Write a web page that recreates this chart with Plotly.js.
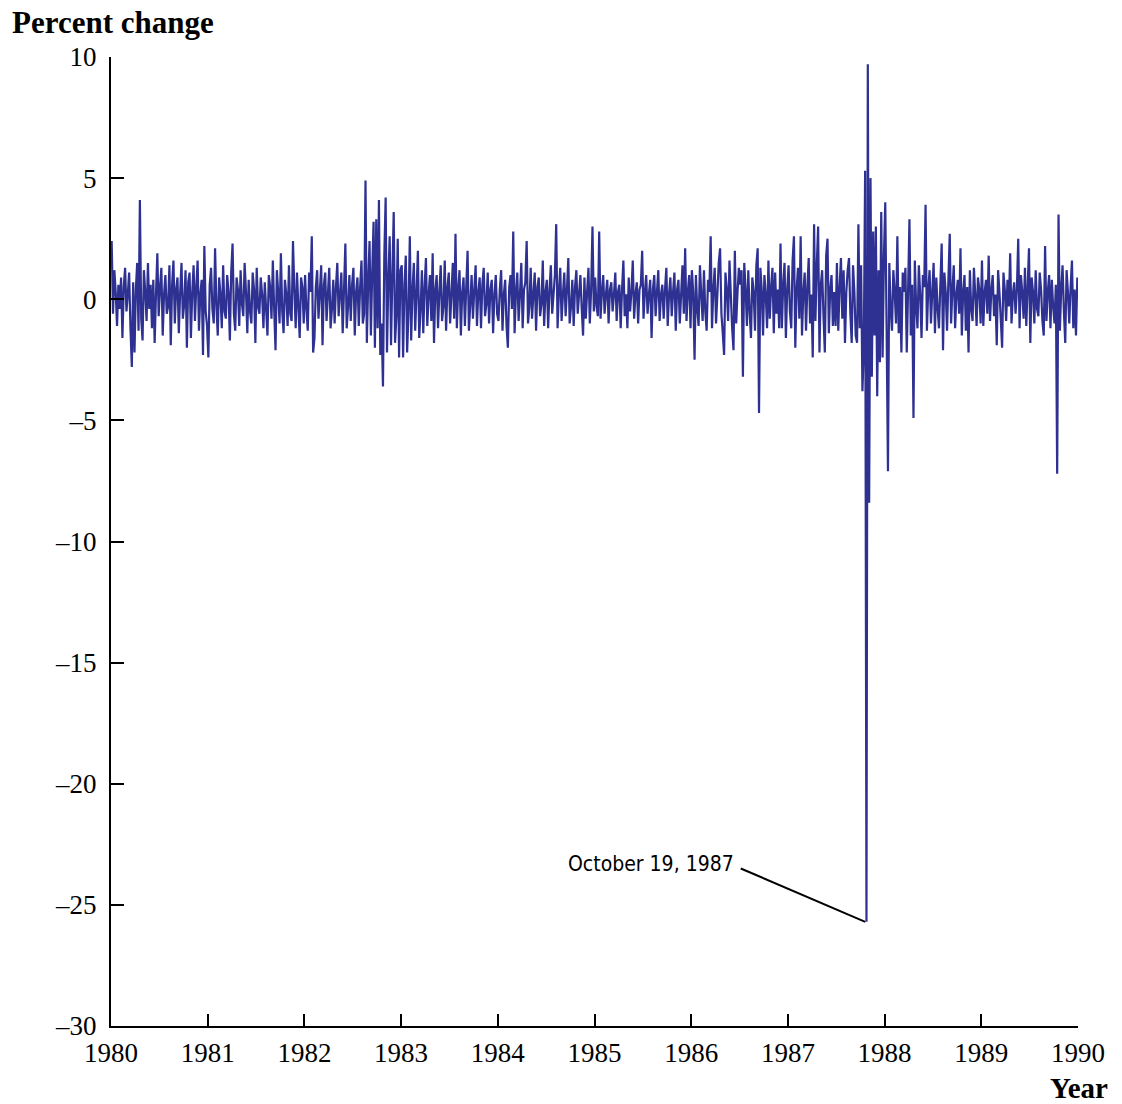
<!DOCTYPE html>
<html>
<head>
<meta charset="utf-8">
<script src="https://cdn.plot.ly/plotly-3.0.1.min.js"></script>
<style>html,body{margin:0;padding:0;background:#fff;}#chart{width:1122px;height:1104px;}</style>
</head>
<body>
<div id="chart"></div>
<script>
// Daily percent change readings, grouped by year (evenly spaced trading-day samples)
const years = [1980,1981,1982,1983,1984,1985,1986,1987,1988,1989];
const y1980 = [2.4,-0.6,1.2,0.3,-1.1,0.6,-0.4,0.9,-1.6,0.5,1.3,-0.5,
  0.2,1.1,-1.2,-2.8,0.7,-2.2,0.4,1.5,-1.3,4.1,-0.8,-1.7,
  1.2,0.3,-0.9,1.5,-0.4,0.6,-1.2,0.8,-1.8,0.2,1.9,-0.7,
  0.5,1.3,-1.5,0.2,1.0,-0.6,-0.3,1.4,-1.9,0.6,1.6,-1.0,
  0.4,0.9,-1.4,0.3,1.5,-0.8,-0.2,1.2,-2.0,0.7,1.1,-1.6,
  0.3,1.4,-0.9,0.5,1.6,-1.3,0.2,0.8,-2.3,2.2,-0.5,-1.1];
const y1981 = [-2.4,0.6,1.3,-0.4,-1.0,2.1,-0.3,-1.5,0.9,0.2,-1.2,1.4,
  -0.5,-0.8,1.0,0.3,-1.7,1.1,2.3,-0.6,-1.3,0.9,0.4,-1.1,
  1.2,-0.2,-0.7,1.5,0.3,-1.4,0.8,-0.5,-1.0,1.1,0.4,-1.8,
  1.3,-0.3,-0.6,0.9,0.2,-1.2,0.7,-0.4,-1.5,1.0,0.5,-0.8,
  1.6,-0.4,-2.1,1.2,0.3,-1.0,1.9,-0.5,-1.4,0.8,0.2,-1.1,
  1.4,-0.6,-0.9,2.4,0.4,-1.2,1.1,-0.3,-1.6,0.9,0.5,-1.0];
const y1982 = [1.0,-0.4,-1.3,1.1,0.3,2.6,-2.2,-1.6,0.5,1.2,-0.8,0.3,
  1.4,-1.9,0.6,1.1,-0.9,0.2,1.3,-1.2,-0.4,0.8,-1.0,0.5,
  1.5,-0.7,0.2,1.1,-1.4,0.4,2.3,-1.2,-0.3,1.0,-0.9,0.6,
  1.3,-1.5,0.3,0.9,-1.1,0.5,1.6,-1.0,-0.6,4.9,-1.8,0.7,
  2.4,-1.5,1.1,3.2,-2.0,3.3,-1.2,4.1,-2.3,-1.0,-3.6,1.8,
  4.2,-2.2,0.8,2.6,-1.9,1.0,3.6,-1.8,-0.7,2.5,-2.4,1.2];
const y1983 = [1.4,-2.4,0.6,1.8,-2.2,-0.5,2.6,-1.7,0.4,1.5,-1.3,0.3,
  2.0,-1.6,-0.4,1.2,-1.4,0.5,1.7,-1.1,0.2,1.0,-0.9,1.9,
  -1.8,0.4,1.0,-1.2,0.3,1.4,-0.9,-0.3,1.6,-1.3,0.5,1.1,
  -1.0,0.2,1.5,-0.8,2.7,-1.2,0.4,1.2,-1.5,0.3,0.9,-1.1,
  0.5,2.0,-1.3,-0.2,1.0,-0.8,0.4,1.4,-1.1,0.3,0.9,-1.2,
  0.6,1.3,-0.7,-0.2,1.1,-1.0,0.4,0.8,-1.4,0.2,1.0,-0.6];
const y1984 = [-0.9,0.4,1.2,-1.3,0.2,0.8,-1.1,-2.0,0.5,1.0,-0.4,2.8,
  -1.4,0.3,1.1,-0.9,0.2,1.5,-1.2,0.4,0.7,2.4,-1.0,-0.3,
  1.3,-0.8,0.2,1.1,-1.3,0.5,0.9,-0.7,-0.2,1.6,-1.1,0.3,
  0.8,-1.2,0.4,1.4,-0.6,0.2,1.0,3.1,-1.2,0.3,1.3,-0.9,
  0.2,1.1,-0.7,0.4,1.7,-1.0,-0.3,0.8,-1.1,0.5,1.2,-0.6,
  0.2,1.0,-0.4,-1.5,0.9,-0.8,0.3,1.3,-1.0,0.4,3.0,-0.5];
const y1985 = [0.9,-0.3,-0.7,2.8,-0.8,0.3,1.0,-0.6,0.2,0.8,-1.0,0.4,
  0.7,-0.5,0.2,1.1,-0.9,0.3,0.6,-1.2,0.4,1.6,-0.7,0.2,
  -1.2,0.9,-0.5,0.3,1.6,-0.8,0.2,0.7,-1.0,0.4,0.6,2.0,
  -0.8,0.3,1.0,-0.6,0.2,0.8,-1.6,0.4,1.0,-0.7,0.3,1.2,
  -0.9,0.2,0.6,-0.8,0.4,1.3,-1.1,0.2,0.9,-0.7,0.3,1.1,
  -1.3,0.4,0.8,-1.0,0.2,1.4,-0.6,2.1,-0.9,0.3,1.0,-1.2];
const y1986 = [1.2,0.3,-2.5,1.0,-0.4,-1.1,1.4,0.2,-0.9,1.2,-0.5,-1.3,
  0.8,0.3,2.6,-1.2,0.4,1.3,-1.0,0.2,1.5,2.1,-0.6,-1.4,
  -2.3,1.1,0.4,-0.9,1.6,0.2,-1.2,-2.1,2.0,-1.0,0.3,1.3,
  0.6,1.2,-3.2,1.5,0.4,-1.1,1.2,-0.5,-1.6,0.9,0.3,-1.3,
  1.4,2.1,-4.7,1.3,0.4,-1.5,1.0,0.2,-1.2,1.6,-0.8,0.5,
  1.3,-1.4,1.1,-0.6,0.4,-1.2,2.3,-1.2,0.6,1.5,-1.6,0.4];
const y1987 = [1.4,-0.5,-1.2,1.6,2.6,-2.0,0.4,1.3,-0.8,2.6,-1.5,0.3,
  1.1,-1.3,0.5,1.7,-1.0,0.2,-2.4,3.1,-0.9,1.4,3.0,-2.2,
  0.6,1.2,-0.7,-2.2,1.8,2.5,-1.4,0.4,1.0,-1.1,0.3,-1.1,
  1.5,-1.3,0.5,1.7,-0.8,1.2,-1.8,0.3,1.2,1.7,-0.6,-1.8,
  1.4,0.3,-1.5,-1.8,3.1,-1.2,1.4,-3.8,-2.0,5.3,-25.7,9.7,
  -8.4,5.0,-3.2,2.8,-1.5,3.0,-4.0,1.2,-2.6,3.6,-2.4,1.8];
const y1988 = [4.0,-1.2,-7.1,1.5,-0.4,-1.3,1.2,0.3,-1.0,2.6,-1.4,0.5,
  -2.2,1.1,0.3,1.3,-2.2,0.4,3.3,-1.5,0.6,-4.9,1.6,-0.3,
  -1.2,1.4,0.2,-1.6,1.0,0.5,3.9,-1.3,0.4,1.2,-1.0,0.3,
  1.5,-1.4,0.9,-0.4,-1.2,0.6,2.3,-2.1,1.1,0.3,-1.3,0.8,
  2.7,-1.0,0.4,1.4,-1.2,0.2,0.8,-0.6,2.1,-1.5,0.3,1.0,
  -1.3,0.5,-2.2,1.2,-0.4,-0.9,1.3,0.2,-1.1,0.9,0.4,-1.0];
const y1989 = [1.6,-1.1,0.3,0.8,-0.6,1.8,-0.9,0.4,1.0,-0.7,0.2,-1.9,
  1.2,0.3,-0.8,-2.0,1.1,0.4,-0.9,0.8,-0.3,1.9,-1.0,0.2,
  0.7,-0.6,0.4,2.5,-1.2,1.0,0.3,-0.8,1.3,-1.1,0.5,2.1,
  -1.8,0.9,0.3,-1.0,1.2,-0.4,-0.7,1.1,0.4,-0.9,-1.5,2.2,
  -0.9,0.3,1.0,-1.2,0.8,-0.3,-1.0,0.6,-7.2,3.5,-1.3,0.4,
  1.4,-0.5,-1.8,1.2,0.3,-1.0,0.5,1.6,-1.2,0.4,-1.5,0.9];
const yearValues = [y1980,y1981,y1982,y1983,y1984,y1985,y1986,y1987,y1988,y1989];

const xTickVals = [1980,1981,1982,1983,1984,1985,1986,1987,1988,1989,1990];
const xTickLabels = ['1980','1981','1982','1983','1984','1985','1986','1987','1988','1989','1990'];
const yTickVals = [-30,-25,-20,-15,-10,-5,0,5,10];
const yTickLabels = ['–30','–25','–20','–15','–10','–5','0','5','10'];

const crashX = 1987.8;
const crashY = -25.7;
const crashLabel = 'October 19, 1987';

// Build the series: each year's readings spread evenly across that year
const xs = [], ys = [];
years.forEach((yr, k) => {
  const vals = yearValues[k];
  vals.forEach((v, i) => { xs.push(yr + (i + 0.5) / vals.length); ys.push(v); });
});

const serif = '"Liberation Serif", "Times New Roman", serif';
const trace = {
  x: xs, y: ys, type: 'scatter', mode: 'lines',
  line: {color: '#2e3192', width: 2.2, simplify: false},
  hoverinfo: 'skip'
};

const layout = {
  width: 1122, height: 1104,
  margin: {l: 111, r: 44, t: 57, b: 78},
  paper_bgcolor: '#fff', plot_bgcolor: '#fff',
  showlegend: false,
  font: {family: serif, color: '#000', size: 26},
  title: {
    text: '<b>Percent change</b>',
    font: {family: serif, size: 31, color: '#000'},
    xref: 'container', yref: 'container',
    x: 12/1122, xanchor: 'left', y: 1 - 22/1104, yanchor: 'middle'
  },
  xaxis: {
    range: [1980, 1990], tickvals: xTickVals, ticktext: xTickLabels,
    ticks: 'inside', ticklen: 12, tickwidth: 2, tickcolor: '#000',
    showline: true, linecolor: '#000', linewidth: 2,
    showgrid: false, zeroline: false, fixedrange: true,
    ticklabelstandoff: 2,
    tickfont: {family: serif, size: 27, color: '#000'}
  },
  yaxis: {
    range: [-30, 10], tickvals: yTickVals, ticktext: yTickLabels,
    ticks: 'inside', ticklen: 13, tickwidth: 2, tickcolor: '#000',
    showline: true, linecolor: '#000', linewidth: 2,
    showgrid: false, zeroline: false, fixedrange: true,
    ticklabelstandoff: 7,
    tickfont: {family: serif, size: 27, color: '#000'}
  },
  annotations: [
    {
      text: '<b>Year</b>', xref: 'paper', yref: 'paper',
      x: 1 + 32/967, xanchor: 'right', y: -80/969, yanchor: 'bottom',
      showarrow: false, font: {family: serif, size: 29, color: '#000'}
    },
    {
      text: '', x: crashX, y: crashY, xref: 'x', yref: 'y',
      showarrow: true, arrowhead: 0, arrowwidth: 2, arrowcolor: '#000',
      ax: -126, ay: -54, standoff: 0
    },
    {
      text: crashLabel, x: crashX, y: crashY, xref: 'x', yref: 'y',
      showarrow: false, xanchor: 'right', yanchor: 'middle',
      xshift: -129, yshift: 58,
      font: {family: '"Liberation Sans Narrow", "DejaVu Sans Condensed", "Roboto Condensed", sans-serif', size: 21, color: '#000'}
    }
  ]
};

Plotly.newPlot('chart', [trace], layout, {displayModeBar: false, staticPlot: true});
</script>
</body>
</html>
